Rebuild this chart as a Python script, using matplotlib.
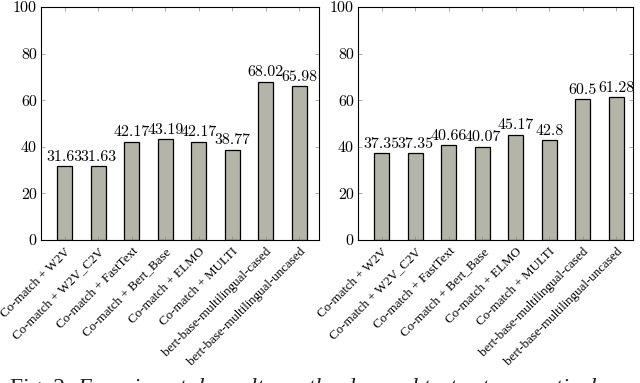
import matplotlib.pyplot as plt
import matplotlib.transforms as mtransforms

plt.rcParams['font.family'] = ['Liberation Serif', 'DejaVu Serif']
plt.rcParams['axes.formatter.use_mathtext'] = True

models = ['Co-match + W2V', 'Co-match + W2V_C2V', 'Co-match + FastText',
          'Co-match + Bert_Base', 'Co-match + ELMO', 'Co-match + MULTI',
          'bert-base-multilingual-cased', 'bert-base-multilingual-uncased']
left_scores = [31.63, 31.63, 42.17, 43.19, 42.17, 38.77, 68.02, 65.98]
right_scores = [37.35, 37.35, 40.66, 40.07, 45.17, 42.8, 60.5, 61.28]
yticks = [0, 20, 40, 60, 80, 100]

num_font = 'cmr10'
bar_color = '#b4b4a8'

fig = plt.figure(figsize=(6.4, 3.83), dpi=100)
shift = mtransforms.ScaledTranslation(5 / 100, -1 / 100, fig.dpi_scale_trans)

# axes boxes in pixels: (left, right)
boxes = [(41, 319, left_scores, 7.59), (358, 633, right_scores, 7.5)]
for x0, x1, scores, xmax in boxes:
    ax = fig.add_axes([x0 / 640, 1 - 240 / 383, (x1 - x0) / 640, (240 - 7) / 383])
    xs = list(range(len(models)))
    ax.bar(xs, scores, width=0.45, color=bar_color, edgecolor='black', linewidth=0.9)
    for x, v in zip(xs, scores):
        ax.text(x, v + 1.0, f'{v:g}', ha='center', va='bottom',
                fontsize=11.5, family=num_font)
    ax.set_xlim(-0.71, xmax)
    ax.set_ylim(0, 100)
    ax.set_yticks(yticks)
    ax.set_yticklabels([str(t) for t in yticks], family=num_font, fontsize=11.5)
    ax.set_xticks(xs)
    ax.set_xticklabels(models, rotation=45, ha='right', va='top',
                       rotation_mode='anchor', fontsize=9.4)
    for lab in ax.get_xticklabels():
        lab.set_transform(lab.get_transform() + shift)
    ax.tick_params(direction='in', top=True, right=True, length=3, width=0.5,
                   color='#888888', pad=3)
    ax.tick_params(axis='x', pad=4)
    for s in ax.spines.values():
        s.set_linewidth(0.8)

# caption, cut off by the bottom edge as in the source page
fig.text(10 / 640, 1 - 378 / 383, 'Fig. 2:', ha='left', va='top',
         fontsize=17, color='#222222')
fig.text(77 / 640, 1 - 378 / 383, 'Experimental results on the dev and test set respectively',
         ha='left', va='top', fontsize=17, style='italic', color='#222222')

fig.savefig('out.png', dpi=100)
